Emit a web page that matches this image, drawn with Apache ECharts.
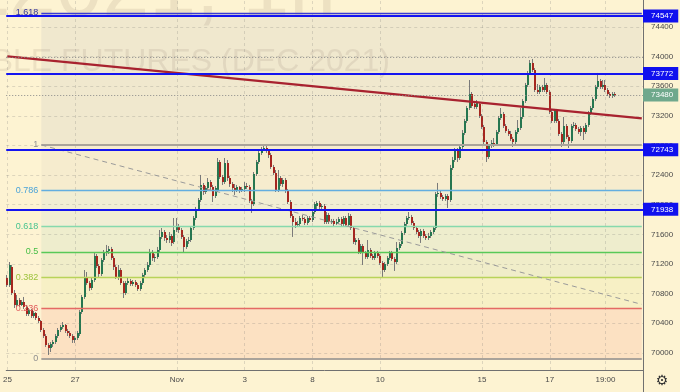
<!DOCTYPE html>
<html><head><meta charset="utf-8">
<script src="https://cdn.jsdelivr.net/npm/echarts@6/dist/echarts.min.js"></script>
<style>html,body{margin:0;padding:0;background:#fdf3d2}#c{width:680px;height:392px}</style>
</head><body><div id="c"></div>
<script>
// ---------- data ----------
const days = ["10-25","10-26","10-27","10-28","10-29","11-01","11-02","11-03","11-05","11-08","11-09","11-10","11-11","11-12","11-15","11-16","11-17","11-18","11-19"];
const hours = ["10:00","11:00","12:00","13:00","14:00","15:00","16:00","17:00","18:00","19:00","20:00","21:00","22:00","23:00"];
const opens = [
71011,70917,71160,70809,70647,70714,70647,70687,70620,70525,
70579,70498,70539,70471,70431,70309,70228,70107,70066,70120,
70147,70228,70309,70350,70377,70296,70269,70228,70174,70201,
70255,70552,70755,71025,70944,70876,70984,71308,71173,71065,
71254,71349,71376,71403,71281,71160,71025,71119,70944,70809,
70944,70971,70930,70957,70917,70863,70944,71052,71119,71187,
71362,71281,71295,71389,71565,71632,71551,71524,71578,71497,
71659,71713,71659,71565,71430,71511,71524,71686,71821,71943,
72064,72267,72172,72226,72307,72240,72118,72199,72577,72375,
72307,72564,72361,72280,72226,72199,72240,72199,72213,72253,
72240,72051,72010,72415,72577,72699,72753,72766,72726,72672,
72510,72429,72199,72361,72280,72334,72186,72037,71848,71767,
71727,71740,71821,71808,71754,71821,71794,71902,71983,72024,
71970,71983,71767,71862,71767,71781,71740,71767,71808,71740,
71821,71727,71848,71686,71497,71524,71362,71443,71349,71295,
71389,71308,71281,71349,71308,71214,71119,71200,71281,71349,
71268,71227,71416,71470,71619,71740,71821,71835,71754,71686,
71632,71578,71646,71578,71551,71578,71632,71686,72145,72159,
72105,72078,72118,72064,72496,72604,72739,72631,72780,72969,
73131,73306,73495,73360,73320,73360,73198,73050,72847,72645,
72793,72834,72820,72982,73171,73225,73063,72996,72955,72888,
72847,72982,73036,73185,73401,73617,73779,73914,73819,73549,
73522,73590,73549,73617,73522,73252,73131,73266,73131,72955,
72847,73063,72915,72861,73063,73077,73023,72982,73036,72982,
73077,73239,73306,73428,73590,73671,73590,73617,73549,73495,
73468,73495];
const closes = [
70917,71187,70809,70647,70714,70647,70687,70620,70525,70579,
70498,70539,70471,70431,70309,70228,70107,70066,70120,70147,
70228,70309,70350,70377,70296,70269,70228,70174,70201,70269,
70552,70755,71025,70944,70876,70984,71308,71173,71065,71254,
71349,71376,71403,71281,71160,71025,71119,70944,70809,70944,
70971,70930,70957,70917,70863,70944,71052,71119,71187,71362,
71281,71295,71389,71565,71632,71551,71524,71578,71484,71659,
71713,71659,71565,71430,71511,71524,71686,71821,71943,72064,
72267,72172,72226,72307,72240,72118,72226,72577,72375,72307,
72564,72361,72280,72226,72199,72240,72199,72213,72253,72240,
72051,72010,72415,72577,72699,72753,72766,72726,72672,72510,
72429,72199,72361,72280,72334,72186,72037,71848,71767,71727,
71740,71821,71808,71754,71821,71794,71902,72010,72024,71970,
71983,71767,71862,71767,71781,71740,71767,71808,71740,71821,
71727,71848,71686,71497,71524,71362,71443,71349,71295,71389,
71308,71281,71349,71308,71214,71119,71200,71281,71349,71268,
71227,71416,71470,71619,71740,71821,71835,71754,71686,71632,
71578,71646,71578,71551,71578,71632,71686,72145,72159,72105,
72078,72118,72064,72496,72604,72739,72631,72780,72969,73131,
73306,73495,73333,73320,73374,73198,73050,72847,72645,72793,
72834,72820,72982,73171,73225,73063,72996,72955,72888,72847,
72982,73036,73185,73401,73617,73779,73914,73819,73549,73522,
73590,73549,73617,73522,73252,73131,73266,73131,72955,72847,
73063,72915,72861,73063,73077,73023,72982,73036,72982,73077,
73239,73306,73428,73590,73671,73590,73617,73549,73495,73468,
73495,73480];
const highs = [
71052,71227,71187,70849,70782,70741,70714,70755,70647,70606,
70593,70566,70552,70498,70444,70336,70255,70134,70147,70174,
70255,70336,70377,70417,70390,70323,70296,70255,70228,70296,
70579,70782,71119,71092,70971,71011,71362,71335,71200,71281,
71389,71457,71443,71430,71308,71187,71187,71146,70971,70971,
71011,70998,70984,70984,70944,70971,71079,71146,71227,71403,
71389,71335,71430,71659,71686,71659,71592,71632,71605,71821,
71821,71740,71686,71592,71538,71565,71713,71848,71970,72091,
72402,72294,72253,72361,72334,72267,72253,72631,72604,72402,
72631,72604,72388,72307,72280,72267,72253,72240,72307,72294,
72267,72078,72442,72604,72726,72780,72807,72793,72753,72699,
72537,72469,72469,72388,72361,72361,72213,72064,71875,71821,
71781,71848,71862,71835,71848,71848,71929,72037,72051,72051,
72010,72010,71902,71889,71808,71808,71808,71835,71835,71848,
71848,71889,71875,71713,71551,71551,71470,71470,71376,71524,
71416,71335,71376,71376,71335,71241,71227,71308,71376,71376,
71295,71497,71497,71646,71767,71848,71902,71862,71781,71713,
71659,71673,71673,71605,71619,71659,71713,72172,72294,72186,
72132,72145,72145,72537,72645,72766,72766,72807,73009,73158,
73333,73684,73522,73401,73414,73387,73225,73077,72874,72820,
72874,72901,73009,73198,73306,73252,73090,73023,72996,72915,
73009,73144,73306,73428,73644,73806,73954,73968,73846,73630,
73617,73617,73711,73644,73549,73279,73293,73293,73158,72982,
73185,73090,72942,73090,73117,73104,73050,73063,73063,73104,
73266,73333,73455,73617,73779,73698,73684,73684,73576,73522,
73522,73522];
const lows = [
70890,70890,70782,70606,70620,70620,70633,70593,70498,70498,
70471,70471,70444,70404,70282,70201,70080,69972,70012,70080,
70120,70201,70282,70323,70269,70228,70201,70134,70134,70174,
70228,70525,70728,70917,70836,70849,70957,71146,71025,71038,
71227,71308,71335,71254,71119,70998,70984,70917,70741,70782,
70917,70903,70903,70890,70836,70836,70917,71025,71092,71160,
71241,71227,71268,71362,71538,71511,71484,71484,71443,71470,
71632,71619,71538,71362,71403,71470,71497,71659,71794,71916,
72037,72132,72145,72199,72199,72037,72091,72172,72348,72267,
72280,72321,72240,72172,72132,72172,72159,72172,72172,72213,
72024,71889,71983,72388,72550,72672,72726,72699,72631,72483,
72402,72172,72172,72253,72240,72159,72010,71821,71565,71686,
71700,71713,71781,71727,71727,71767,71767,71875,71943,71943,
71943,71740,71740,71740,71740,71713,71727,71740,71713,71713,
71700,71700,71659,71470,71457,71335,71335,71187,71268,71268,
71281,71254,71254,71281,71187,71011,71092,71173,71254,71241,
71106,71200,71389,71443,71592,71713,71794,71727,71659,71605,
71551,71484,71551,71524,71524,71551,71605,71659,72105,72078,
72051,72051,71956,72037,72469,72577,72577,72604,72753,72942,
73104,73279,73306,73293,73293,73171,73023,72820,72577,72618,
72766,72780,72793,72955,73144,73036,72969,72928,72861,72780,
72820,72955,73009,73158,73374,73590,73752,73792,73522,73495,
73495,73522,73522,73495,73225,73104,73104,73104,72928,72780,
72820,72888,72766,72834,73036,72996,72955,72928,72874,72955,
73050,73212,73279,73401,73563,73563,73563,73522,73468,73441,
73441,73455];
const tickLabels = [["10-25 10:00","25"],["10-27 10:00","27"],["11-01 10:00","Nov"],["11-03 10:00","3"],["11-08 10:00","8"],["11-10 10:00","10"],["11-15 10:00","15"],["11-17 10:00","17"],["11-18 19:00","19:00"]];
const priceTicks = [70000,70400,70800,71200,71600,72000,72400,72800,73200,73600,74000,74400];
const keyLevels = [74547, 73772, 72743, 71938];
const lastPrice = 73480;
const dottedLevels = [73985];
const fibLevels = [0, 0.236, 0.382, 0.5, 0.618, 0.786, 1, 1.618];
const fibLow = 69922, fibHigh = 72807;
const fibStartCat = "10-26 10:00";
const redTrend = [["10-25 10:00", 74003], ["11-19 20:00", 73166]];
const fibTrend = [["10-26 10:00", 72807], ["11-19 20:00", 70655]];
const yMin = 69769, yMax = 74764;
const watermark1 = "SIZ2021, 1h";
const watermark2 = "US DOLLAR/RUBLE FUTURES (DEC 2021)";

// ---------- styles ----------
const FONT = '"Liberation Sans", Arial, sans-serif';
const fibLineColors  = ['#aaa39a','#e46a64','#b8d35a','#58c958','#86d9ad','#62aee0','#aaa39a','#3a3ad6'];
const fibLabelColors = ['#8e8e8e','#e05a5a','#9cc23a','#45bd45','#47c48f','#4aa3d8','#8e8e8e','#34349a'];
const fibZoneColors  = ['rgba(244,67,54,0.10)','rgba(175,205,50,0.08)','rgba(76,175,80,0.07)','rgba(0,150,136,0.06)','rgba(100,181,246,0.08)','rgba(120,123,134,0.05)','rgba(90,100,170,0.08)'];

// ---------- build ----------
const categories = [];
days.forEach(d => hours.forEach(h => categories.push(d + ' ' + h)));
categories.length = 263;
const lastCat = categories[categories.length - 1];
const tickMap = new Map(tickLabels);
const candleData = opens.map((o, i) => [i, o, closes[i], lows[i], highs[i]]);
const fibValues = fibLevels.map(l => fibLow + (fibHigh - fibLow) * l);

function renderCandle(params, api) {
  const i = api.value(0);
  const o = api.coord([i, api.value(1)]);
  const c = api.coord([i, api.value(2)]);
  const lo = api.coord([i, api.value(3)]);
  const hi = api.coord([i, api.value(4)]);
  const x = Math.round(o[0]);
  const up = api.value(2) >= api.value(1);
  const top = Math.min(o[1], c[1]);
  const h = Math.max(1, Math.abs(o[1] - c[1]));
  return {
    type: 'group',
    children: [
      { type: 'line', shape: { x1: x - 0.5, y1: hi[1], x2: x - 0.5, y2: lo[1] },
        style: { stroke: '#7a7a7a', lineWidth: 1 } },
      { type: 'rect', shape: { x: x - 1, y: top, width: 2, height: h },
        style: { fill: up ? '#267650' : '#a5261f', stroke: null } }
    ]
  };
}

const zones = [];
for (let k = 1; k < fibValues.length; k++) {
  zones.push([
    { xAxis: fibStartCat, yAxis: fibValues[k - 1], itemStyle: { color: fibZoneColors[k - 1] } },
    { xAxis: lastCat, yAxis: fibValues[k] }
  ]);
}

const fibLines = fibValues.map((v, k) => [
  { coord: [fibStartCat, v],
    lineStyle: { color: fibLineColors[k], width: (k === 0 || k === 6) ? 2 : 1.3, type: 'solid' },
    label: { show: true, position: 'start', distance: 3, formatter: String(fibLevels[k]),
             color: fibLabelColors[k], fontSize: 9, fontFamily: FONT } },
  { coord: [lastCat, v] }
]);

const option = {
  backgroundColor: '#fdf3d2',
  animation: false,
  grid: { left: -2, right: 37, top: 0, bottom: 22 },
  xAxis: {
    type: 'category', data: categories, boundaryGap: true,
    axisLine: { show: true, lineStyle: { color: '#707070', width: 1 } },
    axisTick: { show: false },
    axisLabel: { interval: (idx, val) => tickMap.has(val), formatter: v => tickMap.get(v) || '',
                 color: '#4a4a4a', fontSize: 8, margin: 6, fontFamily: FONT },
    splitLine: { show: false }
  },
  yAxis: {
    type: 'value', position: 'right', min: yMin, max: yMax, scale: true,
    axisLine: { show: true, lineStyle: { color: '#707070', width: 1 } },
    axisTick: { show: false }, axisLabel: { show: false }, splitLine: { show: false }
  },
  graphic: [
    { type: 'text', x: 336, y: -8, z: 0, silent: true,
      style: { text: watermark1, align: 'right', verticalAlign: 'middle', font: '84px ' + FONT, fill: 'rgba(150,130,105,0.15)' } },
    { type: 'text', x: 390, y: 62, z: 0, silent: true,
      style: { text: watermark2, align: 'right', verticalAlign: 'middle', font: '32px ' + FONT, fill: 'rgba(150,130,105,0.15)' } },
    { type: 'line', z: 10, silent: true, shape: { x1: 643.5, y1: 370, x2: 643.5, y2: 392 }, style: { stroke: '#707070', lineWidth: 1 } },
    { type: 'text', x: 662, y: 381, z: 10, silent: true,
      style: { text: '\u2699', align: 'center', verticalAlign: 'middle', font: '14px "DejaVu Sans"', fill: '#333' } }
  ],
  series: [
    { type: 'line', data: [], z: 1, silent: true,
      markArea: { silent: true, data: zones } },
    { type: 'line', data: [], z: 1, silent: true,
      markLine: { silent: true, symbol: ['none', 'none'],
        lineStyle: { color: 'rgba(110,110,110,0.22)', type: [3, 3], width: 1 },
        label: { show: true, position: 'end', distance: 8, formatter: p => String(p.value), color: '#4a4a4a', fontSize: 8, fontFamily: FONT },
        data: priceTicks.map(v => ({ yAxis: v })) } },
    { type: 'line', data: [], z: 1, silent: true,
      markLine: { silent: true, symbol: ['none', 'none'],
        lineStyle: { color: 'rgba(110,110,110,0.22)', type: [3, 3], width: 1 },
        label: { show: false },
        data: tickLabels.map(t => ({ xAxis: t[0] })) } },
    { type: 'line', data: [], z: 2, silent: true,
      markLine: { silent: true, symbol: ['none', 'none'], data: fibLines } },
    { type: 'custom', name: 'SIZ2021', z: 3, renderItem: renderCandle, data: candleData,
      encode: { x: 0, y: [1, 2, 3, 4] } },
    { type: 'line', data: [], z: 4, silent: true,
      markLine: { silent: true, symbol: ['none', 'none'], label: { show: false },
        data: [
          [{ coord: fibTrend[0], lineStyle: { color: '#9a9a9a', width: 1, type: [5, 4] } }, { coord: fibTrend[1] }],
          [{ coord: redTrend[0], lineStyle: { color: '#a8222f', width: 2.5, type: 'solid' } }, { coord: redTrend[1] }]
        ] } },
    { type: 'line', data: [], z: 5, silent: true,
      markLine: { silent: true, symbol: ['none', 'none'],
        data: dottedLevels.map(v => ({ yAxis: v, lineStyle: { color: '#8a8a8a', width: 1, type: [1, 2] }, label: { show: false } }))
          .concat([{ yAxis: lastPrice, lineStyle: { color: '#8a8a8a', width: 1, type: [1, 2] },
            label: { show: true, position: 'end', distance: 0, formatter: String(lastPrice), color: '#fff',
              backgroundColor: '#6fa88c', padding: [3, 5, 2, 8], fontSize: 8, fontFamily: FONT } }]) } },
    { type: 'line', data: [], z: 6, silent: true,
      markLine: { silent: true, symbol: ['none', 'none'],
        lineStyle: { color: '#1414f0', width: 2.2, type: 'solid' },
        label: { show: true, position: 'end', distance: 0, formatter: p => String(p.value), color: '#fff',
          backgroundColor: '#1010ee', padding: [3, 5, 2, 8], fontSize: 8, fontFamily: FONT },
        data: keyLevels.map(v => ({ yAxis: v })) } }
  ]
};
const chart = echarts.init(document.getElementById('c'));
chart.setOption(option);
</script></body></html>
